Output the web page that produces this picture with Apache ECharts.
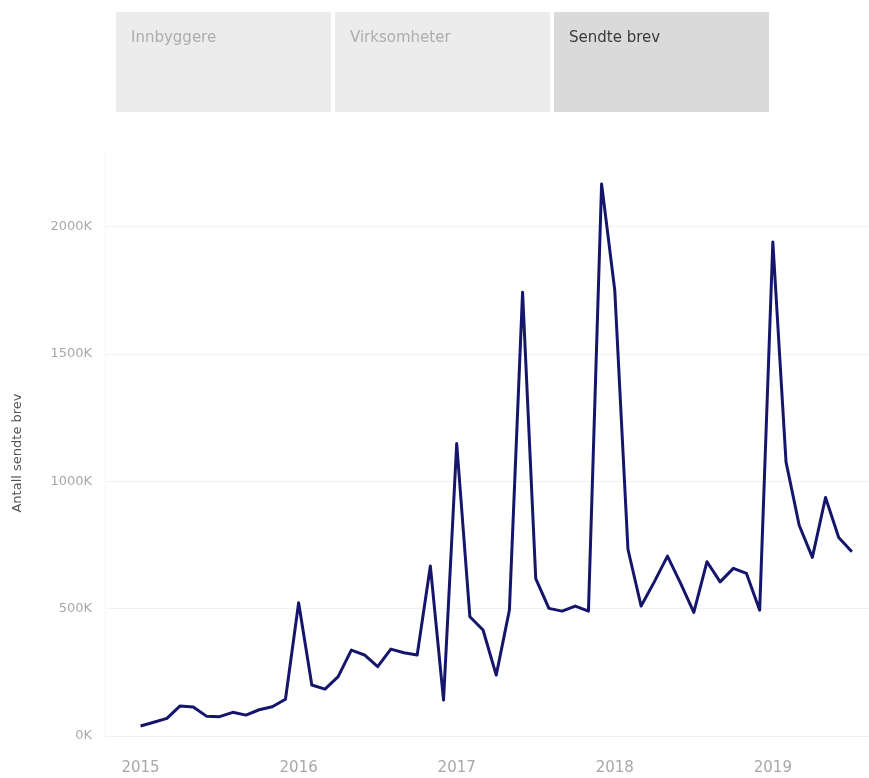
<!DOCTYPE html>
<html>
<head>
<meta charset="utf-8">
<script src="https://cdn.jsdelivr.net/npm/echarts@6/dist/echarts.min.js"></script>
<style>
html,body{margin:0;padding:0;background:#fff;}
#chart{width:869px;height:778px;}
</style>
</head>
<body>
<div id="chart"></div>
<script>
// Months (Jan 2015 – Jul 2019)
const months = [
  '2015-01','2015-02','2015-03','2015-04','2015-05','2015-06','2015-07','2015-08','2015-09','2015-10','2015-11','2015-12',
  '2016-01','2016-02','2016-03','2016-04','2016-05','2016-06','2016-07','2016-08','2016-09','2016-10','2016-11','2016-12',
  '2017-01','2017-02','2017-03','2017-04','2017-05','2017-06','2017-07','2017-08','2017-09','2017-10','2017-11','2017-12',
  '2018-01','2018-02','2018-03','2018-04','2018-05','2018-06','2018-07','2018-08','2018-09','2018-10','2018-11','2018-12',
  '2019-01','2019-02','2019-03','2019-04','2019-05','2019-06','2019-07'
];
// Antall sendte brev, in thousands
const sendteBrevK = [
  39, 54, 69, 118, 114, 78, 76, 93, 82, 103, 115, 144,
  523, 200, 184, 233, 337, 318, 272, 341, 327, 318, 667, 141,
  1148, 468, 416, 239, 494, 1742, 618, 501, 490, 510, 490, 2167,
  1749, 733, 510, 605, 706, 599, 485, 684, 605, 658, 638, 494,
  1939, 1076, 827, 701, 936, 779, 723
];
const yearTicks = ['2015','2016','2017','2018','2019'];
const yTicksK = [0, 500, 1000, 1500, 2000];
const tabs = ['Innbyggere','Virksomheter','Sendte brev'];
const activeTab = 2;

const seriesData = months.map((m, i) => [i, sendteBrevK[i] * 1000]);
const yearIndex = yearTicks.map(y => months.indexOf(y + '-01'));

const FONT = '"DejaVu Sans", sans-serif';
const tabX = [116, 335, 554];
const tabW = 215;
const graphics = [];
tabs.forEach((t, i) => {
  graphics.push({
    type: 'rect', left: tabX[i], top: 12, z: 10,
    shape: { width: tabW, height: 100 },
    style: { fill: i === activeTab ? '#dadada' : '#ececec' }
  });
  graphics.push({
    type: 'text', left: tabX[i] + 15, top: 31, z: 11,
    style: { text: t, fill: i === activeTab ? '#3a3a3a' : '#adadad', font: '15px ' + FONT }
  });
});
graphics.push({
  type: 'text', x: 18, y: 453, rotation: Math.PI / 2,
  style: { text: 'Antall sendte brev', fill: '#555', font: '13px ' + FONT, align: 'center', verticalAlign: 'middle' }
});

const chart = echarts.init(document.getElementById('chart'), null, { renderer: 'canvas' });
chart.setOption({
  animation: false,
  backgroundColor: '#fff',
  graphic: graphics,
  grid: { left: 105, right: 0, top: 150, bottom: 42 },
  xAxis: {
    type: 'value',
    min: -2.7, max: 55.3,
    axisLine: { show: false },
    axisTick: { show: false },
    splitLine: { show: false },
    axisLabel: {
      customValues: yearIndex,
      formatter: v => yearTicks[yearIndex.indexOf(v)] || '',
      color: '#a8a8a8', fontSize: 15, margin: 25,
      fontFamily: FONT
    }
  },
  yAxis: {
    type: 'value',
    min: 0, max: 2300000,
    axisLine: { show: true, onZero: false, lineStyle: { color: '#f6f6f6' } },
    axisTick: { show: false, customValues: yTicksK.map(v => v * 1000) },
    splitLine: { show: true, lineStyle: { color: '#f1f1f1', width: 1 } },
    axisLabel: {
      customValues: yTicksK.map(v => v * 1000),
      formatter: v => (v / 1000) + 'K',
      color: '#a8a8a8', fontSize: 13, margin: 13,
      fontFamily: FONT
    }
  },
  series: [{
    type: 'line',
    data: seriesData,
    showSymbol: false,
    symbol: 'none',
    lineStyle: { color: '#15166b', width: 3, join: 'round' },
    itemStyle: { color: '#15166b' }
  }]
});
</script>
</body>
</html>
